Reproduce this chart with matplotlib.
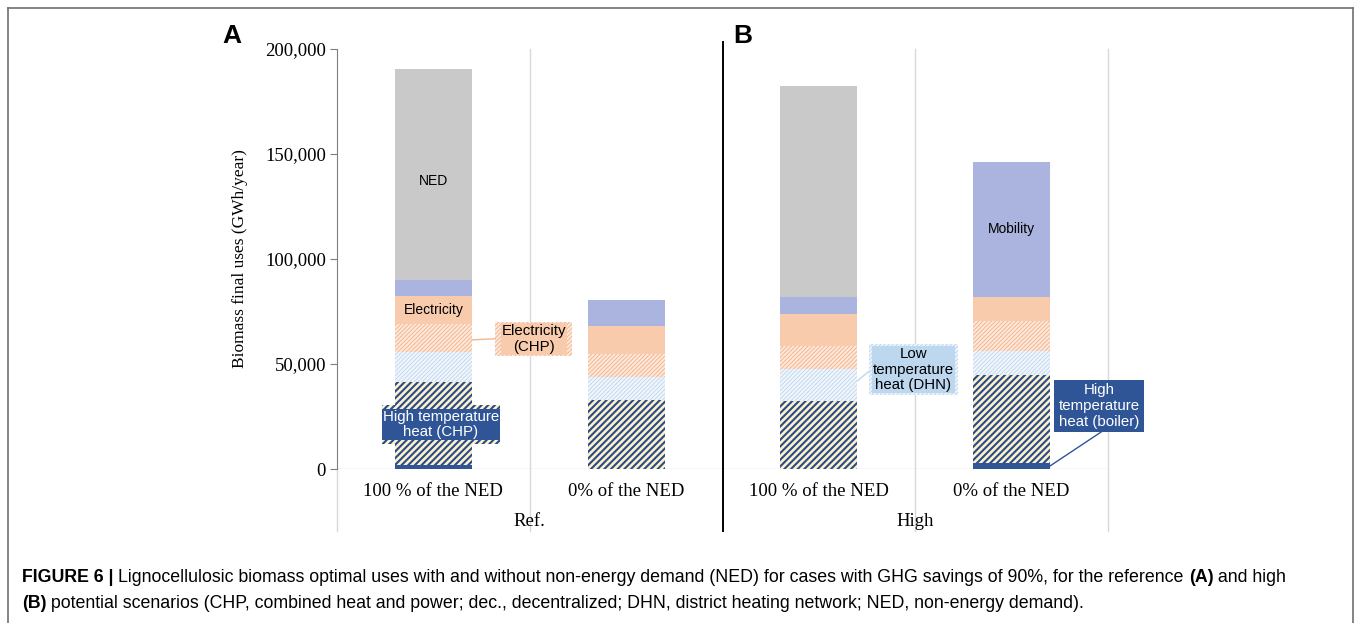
import matplotlib
matplotlib.use("Agg")
import matplotlib.pyplot as plt
from matplotlib.patches import Rectangle
from matplotlib.lines import Line2D
from matplotlib.transforms import blended_transform_factory
import numpy as np

# data (GWh/year)
categories = ["100 % of the NED", "0% of the NED", "100 % of the NED", "0% of the NED"]
groups = ["Ref.", "High"]
ht_boiler = [2000, 0, 0, 2700]
ht_chp = [39600, 32900, 32500, 42100]
lt_dhn = [14100, 11100, 15000, 11200]
elec_chp = [13300, 10800, 11200, 14500]
elec = [13400, 13500, 15000, 11500]
mobility = [7600, 12200, 8100, 64200]
ned = [100500, 0, 100600, 0]
yticks = [0, 50000, 100000, 150000, 200000]

DARK = "#2f5597"
SERIF = "Liberation Serif"
SANS = "Liberation Sans"

W, H = 1354, 623
fig = plt.figure(figsize=(W / 100, H / 100), dpi=100)


def px(x0, y0, x1, y1):
    # pixel box -> figure fraction [left, bottom, width, height]
    return [x0 / W, 1 - y1 / H, (x1 - x0) / W, (y1 - y0) / H]


ax = fig.add_axes(px(337, 49, 1108, 469))
x = np.arange(len(categories))
bw = 0.4

# stacked segments: (values, face, hatch colour, hatch, hatch lw)
segments = [
    (ht_boiler, DARK, DARK, None, 1.0),
    (ht_chp, "#fbf1cc", "#2b4a86", "/////", 1.5),
    (lt_dhn, "#f1f6fc", "#c3d9ef", "////////", 0.7),
    (elec_chp, "#fde9dc", "#f3b58f", "////////", 0.7),
    (elec, "#f8cbad", "#f8cbad", None, 1.0),
    (mobility, "#abb4df", "#abb4df", None, 1.0),
    (ned, "#c9c9c9", "#c9c9c9", None, 1.0),
]
bottom = np.zeros(len(categories))
for vals, face, hcol, hatch, hlw in segments:
    vals = np.array(vals, dtype=float)
    with plt.rc_context({"hatch.linewidth": hlw}):
        bars = ax.bar(x, vals, bw, bottom=bottom, color=face, edgecolor=hcol,
                      linewidth=0, hatch=hatch, zorder=3)
    for b in bars:
        if hasattr(b, "set_hatch_linewidth"):
            b.set_hatch_linewidth(hlw)
    bottom += vals

ax.set_xlim(-0.5, 3.5)
ax.set_ylim(0, 200000)
ax.set_yticks(yticks)
ax.set_yticklabels([f"{v:,}" for v in yticks], fontfamily=SERIF, fontsize=13.5)
ax.set_xticks([])
for s in ["top", "right", "bottom"]:
    ax.spines[s].set_visible(False)
ax.spines["left"].set_color("#7f7f7f")
ax.tick_params(axis="y", length=5, color="#7f7f7f", pad=3)
ax.set_ylabel("Biomass final uses (GWh/year)", fontfamily=SERIF, fontsize=12.5, labelpad=12)
ax.axhline(0, color="#d9d9d9", lw=1, zorder=2)

# separators
tr = blended_transform_factory(ax.transData, ax.transAxes)
for xv in [-0.5, 0.5, 2.5, 3.5]:
    top = 1.0 if xv > -0.5 else 0.0
    ax.add_line(Line2D([xv, xv], [-0.148, top], color="#d9d9d9", lw=1, clip_on=False,
                       transform=tr, zorder=1))
ax.add_line(Line2D([1.5, 1.5], [-0.148, 1.017], color="black", lw=1.4, clip_on=False,
                   transform=tr, zorder=4))

for i, c in enumerate(categories):
    ax.text(i, -0.053, c, transform=tr, ha="center", va="center", fontfamily=SERIF, fontsize=13.5)
for i, g in enumerate(groups):
    ax.text(2 * i + 0.5, -0.125, g, transform=tr, ha="center", va="center", fontfamily=SERIF, fontsize=13.5)

# labels inside bars
tops = np.cumsum([ht_boiler, ht_chp, lt_dhn, elec_chp, elec, mobility, ned], axis=0)
ax.text(0, 137000, "NED", ha="center", va="center", fontfamily=SANS, fontsize=10, zorder=5)
ax.text(0, (tops[3][0] + tops[4][0]) / 2, "Electricity", ha="center", va="center",
        fontfamily=SANS, fontsize=10, zorder=5)
ax.text(3, (tops[4][3] + tops[5][3]) / 2, "Mobility", ha="center", va="center",
        fontfamily=SANS, fontsize=10, zorder=5)


def callout(x0, x1, y0, y1, face, hcol, hatch, hlw, text, tcol, tbg):
    with plt.rc_context({"hatch.linewidth": hlw}):
        r = Rectangle((x0, y0), x1 - x0, y1 - y0, facecolor=face, edgecolor=hcol,
                      linewidth=0, hatch=hatch, clip_on=False, zorder=6)
    if hasattr(r, "set_hatch_linewidth"):
        r.set_hatch_linewidth(hlw)
    ax.add_patch(r)
    ax.text((x0 + x1) / 2, (y0 + y1) / 2, text, ha="center", va="center", color=tcol,
            fontfamily=SANS, fontsize=10.8, linespacing=1.15, zorder=7, clip_on=False,
            bbox=dict(boxstyle="square,pad=0.05", facecolor=tbg, edgecolor="none"))


callout(0.32, 0.72, 53800, 70000, "#fde9dc", "#f3b58f", "////////", 0.7,
        "Electricity\n(CHP)", "black", "#f8cbad")
ax.plot([0.2, 0.32], [61500, 62000], color="#f3b58f", lw=1, zorder=6, clip_on=False)

callout(-0.267, 0.346, 11900, 30500, "#fbf1cc", "#2b4a86", "/////", 1.5,
        "High temperature\nheat (CHP)", "white", DARK)

callout(2.26, 2.72, 35200, 59500, "#eef5fc", "#bdd7ee", "////////", 0.7,
        "Low\ntemperature\nheat (DHN)", "black", "#bdd7ee")
ax.plot([2.2, 2.26], [42000, 46500], color="#bdd7ee", lw=1, zorder=6, clip_on=False)

callout(3.22, 3.687, 17600, 42400, DARK, DARK, None, 1.0,
        "High\ntemperature\nheat (boiler)", "white", DARK)
ax.plot([3.2, 3.464], [1500, 17600], color=DARK, lw=1, zorder=6, clip_on=False)

# panel letters
fig.text(222 / W, 1 - 36 / H, "A", fontfamily=SANS, fontweight="bold", fontsize=19, va="center")
fig.text(733 / W, 1 - 36 / H, "B", fontfamily=SANS, fontweight="bold", fontsize=19, va="center")

# outer frame
fig.add_artist(Line2D([8 / W, 1353 / W], [1 - 8 / H] * 2, transform=fig.transFigure, color="#6f6f6f", lw=1.2))
fig.add_artist(Line2D([8 / W] * 2, [0, 1 - 8 / H], transform=fig.transFigure, color="#6f6f6f", lw=1.2))
fig.add_artist(Line2D([1353 / W] * 2, [0, 1 - 8 / H], transform=fig.transFigure, color="#6f6f6f", lw=1.2))

# caption with mixed bold / normal runs
renderer = fig.canvas.get_renderer()
cap_size = 12.8


def run_line(pieces, x0, y0):
    xx = x0
    for txt, bold in pieces:
        t = fig.text(xx / W, 1 - y0 / H, txt, fontfamily=SANS, fontsize=cap_size,
                     fontweight="bold" if bold else "normal", va="center", ha="left")
        bb = t.get_window_extent(renderer=renderer)
        xx += bb.width


run_line([("FIGURE 6 | ", True),
          ("Lignocellulosic biomass optimal uses with and without non-energy demand (NED) for cases with GHG savings of 90%, for the reference ", False),
          ("(A)", True), (" and high", False)], 22, 577)
run_line([("(B)", True),
          (" potential scenarios (CHP, combined heat and power; dec., decentralized; DHN, district heating network; NED, non-energy demand).", False)],
         22, 603)

fig.savefig("out.png", dpi=100)
